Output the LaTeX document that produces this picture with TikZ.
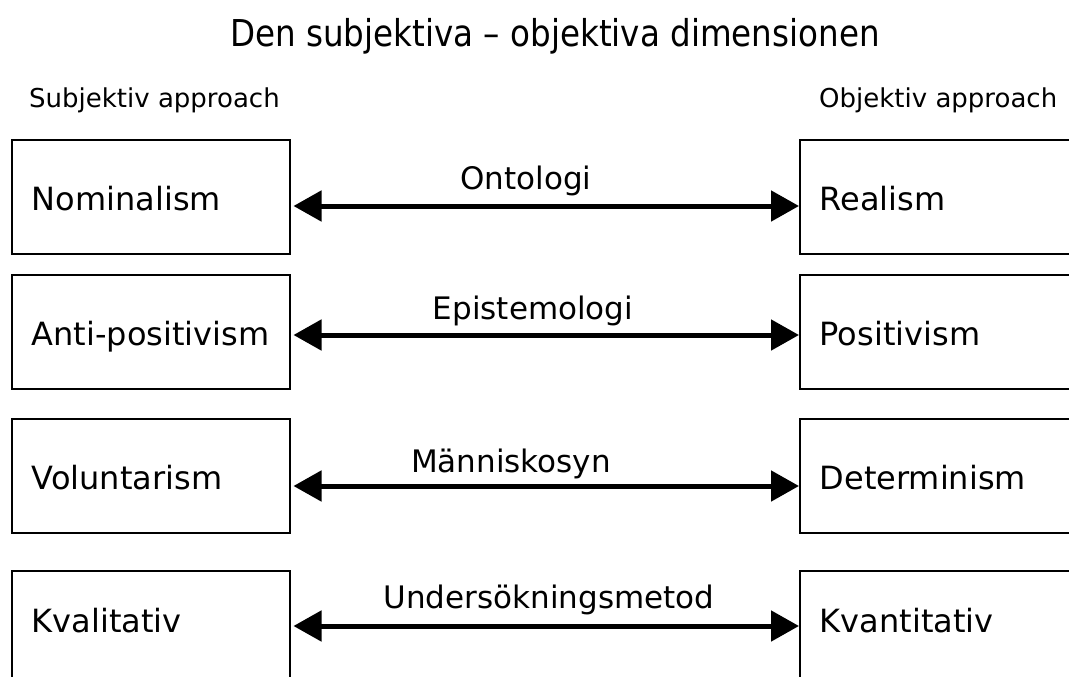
\documentclass[tikz,border=0pt]{standalone}
\usepackage{fontspec}
\setmainfont{DejaVu Sans}
\newfontfamily\titlefont[FakeStretch=0.88,Ligatures=TeX]{DejaVu Sans}
\usetikzlibrary{arrows.meta}
\begin{document}
\begin{tikzpicture}[x=1pt,y=-1pt,
  box/.style={draw, line width=1.5pt, minimum height=114pt, inner xsep=20pt, inner ysep=0pt,
    text height=26pt, text depth=0pt, align=left, anchor=west,
    font=\fontsize{32}{38}\selectfont},
  leftbox/.style={box, text width=238pt},
  rightbox/.style={box, text width=280pt},
  lastrow/.style={text depth=18pt},
  axislabel/.style={anchor=base, inner sep=0pt, font=\fontsize{31}{37}\selectfont},
  sidelabel/.style={anchor=base west, inner sep=0pt, font=\fontsize{26}{31}\selectfont},
  biarrow/.style={line width=5pt,
    {Triangle[length=28pt,width=30pt]}-{Triangle[length=28pt,width=30pt]}}
]
\useasboundingbox (0,0) rectangle (1069,677);
\clip (0,0) rectangle (1069,677);

% heading
\node[anchor=base, inner sep=0pt, font=\titlefont\fontsize{37}{44}\selectfont] (title) at (555,47)
  {Den subjektiva – objektiva dimensionen};
\node[sidelabel] (subj) at (29,107) {Subjektiv approach};
\node[sidelabel] (obj) at (819,107) {Objektiv approach};

% subjective side
\node[leftbox] (L1) at (11,197) {Nominalism};
\node[leftbox] (L2) at (11,332) {Anti-positivism};
\node[leftbox] (L3) at (11,476) {Voluntarism};
\node[leftbox, lastrow] (L4) at (11,628) {Kvalitativ};

% objective side
\node[rightbox] (R1) at (799,197) {Realism};
\node[rightbox] (R2) at (799,332) {Positivism};
\node[rightbox] (R3) at (799,476) {Determinism};
\node[rightbox, lastrow] (R4) at (799,628) {Kvantitativ};

% dimensions
\draw[biarrow] ([xshift=3pt,yshift=-9pt]L1.east) -- ([yshift=-9pt]R1.west);
\draw[biarrow] ([xshift=3pt,yshift=-3pt]L2.east) -- ([yshift=-3pt]R2.west);
\draw[biarrow] ([xshift=3pt,yshift=-10pt]L3.east) -- ([yshift=-10pt]R3.west);
\draw[biarrow] ([xshift=3pt,yshift=2pt]L4.east) -- ([yshift=2pt]R4.west);

\node[axislabel] (d1) at (526,189) {Ontologi};
\node[axislabel] (d2) at (533,319) {Epistemologi};
\node[axislabel] (d3) at (511,472) {Människosyn};
\node[axislabel] (d4) at (549,608) {Undersökningsmetod};
\end{tikzpicture}
\end{document}
